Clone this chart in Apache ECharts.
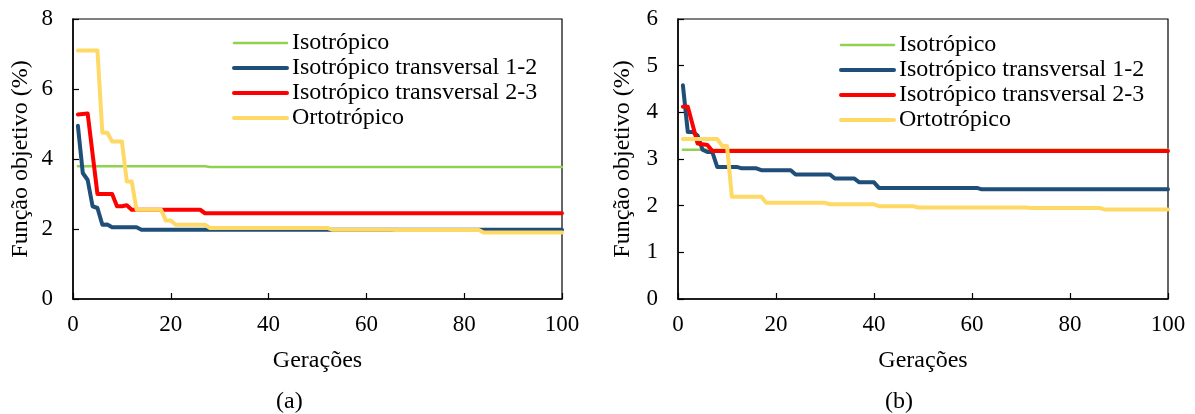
<!DOCTYPE html>
<html>
<head>
<meta charset="utf-8">
<script src="https://cdn.jsdelivr.net/npm/echarts@6/dist/echarts.min.js"></script>
<style>
  html, body { margin: 0; padding: 0; background: #fff; }
  #chart { width: 1195px; height: 414px; }
</style>
</head>
<body>
<div id="chart"></div>
<script>
// Series names (legend order)
const nomesSeries = ['Isotrópico', 'Isotrópico transversal 1-2', 'Isotrópico transversal 2-3', 'Ortotrópico'];

// Panel (a): objective function (%) per generation, [geração, valor] at the change points
const isoA = [[1, 3.79], [27, 3.79], [28, 3.77], [100, 3.77]];
const trans12A = [[1, 4.95], [2, 3.6], [3, 3.4], [4, 2.65], [5, 2.6], [6, 2.12], [7, 2.13], [8, 2.05], [13, 2.05], [14, 1.98], [100, 1.98]];
const trans23A = [[1, 5.27], [3, 5.3], [5, 3.0], [8, 3.0], [9, 2.65], [10, 2.65], [11, 2.68], [12, 2.55], [26, 2.55], [27, 2.45], [100, 2.45]];
const ortoA = [[1, 7.1], [5, 7.1], [6, 4.75], [7, 4.75], [8, 4.5], [10, 4.5], [11, 3.36], [12, 3.36], [13, 2.55], [18, 2.55], [19, 2.24], [20, 2.24], [21, 2.12], [27, 2.12], [28, 2.03], [52, 2.03], [53, 1.98], [65, 1.98], [66, 1.97], [83, 1.97], [84, 1.9], [100, 1.9]];

// Panel (b)
const isoB = [[1, 3.2], [100, 3.2]];
const trans12B = [[1, 4.58], [2, 3.58], [3, 3.58], [4, 3.5], [5, 3.2], [6, 3.15], [7, 3.15], [8, 2.83], [12, 2.83], [13, 2.8], [16, 2.8], [17, 2.76], [23, 2.76], [24, 2.67], [31, 2.67], [32, 2.58], [36, 2.58], [37, 2.5], [40, 2.5], [41, 2.38], [61, 2.38], [62, 2.35], [100, 2.35]];
const trans23B = [[1, 4.12], [2, 4.12], [4, 3.33], [6, 3.3], [7, 3.17], [100, 3.17]];
const ortoB = [[1, 3.43], [8, 3.43], [9, 3.28], [10, 3.28], [11, 2.19], [17, 2.19], [18, 2.06], [30, 2.06], [31, 2.03], [40, 2.03], [41, 1.99], [48, 1.99], [49, 1.96], [71, 1.96], [72, 1.95], [86, 1.95], [87, 1.92], [100, 1.92]];

// Axis ranges
const eixoX = { min: 0, max: 100, interval: 20 };
const eixoYA = { min: 0, max: 8, interval: 2 };
const eixoYB = { min: 0, max: 6, interval: 1 };

const FONT = '"Liberation Serif", "Times New Roman", serif';
const cores = ['#92D050', '#1F4E79', '#FF0000', '#FFD966'];
const larguras = [2.5, 4, 4, 4];

function xAxisDef(gridIndex) {
  return {
    type: 'value', gridIndex, min: eixoX.min, max: eixoX.max, interval: eixoX.interval,
    name: 'Gerações', nameLocation: 'middle', nameGap: 50,
    nameTextStyle: { fontFamily: FONT, fontSize: 24, color: '#000' },
    axisLine: { show: true, lineStyle: { color: '#000', width: 1.5 } },
    axisTick: { show: true, inside: true, length: 6, lineStyle: { color: '#000', width: 1.2 } },
    axisLabel: { fontFamily: FONT, fontSize: 23, color: '#000', margin: 14 },
    splitLine: { show: false }
  };
}
function yAxisDef(gridIndex, r, gap) {
  return {
    type: 'value', gridIndex, min: r.min, max: r.max, interval: r.interval,
    name: 'Função objetivo (%)', nameLocation: 'middle', nameGap: gap,
    nameTextStyle: { fontFamily: FONT, fontSize: 24, color: '#000' },
    axisLine: { show: true, lineStyle: { color: '#000', width: 1.5 } },
    axisTick: { show: true, inside: true, length: 6, lineStyle: { color: '#000', width: 1.2 } },
    axisLabel: { fontFamily: FONT, fontSize: 23, color: '#000', margin: 20 },
    splitLine: { show: false }
  };
}
function serie(i, dados, idx) {
  return {
    name: nomesSeries[i], type: 'line', data: dados,
    xAxisIndex: idx, yAxisIndex: idx,
    symbol: 'none', silent: true, animation: false,
    lineStyle: { color: cores[i], width: larguras[i], cap: 'round', join: 'round' },
    itemStyle: { color: cores[i] }
  };
}
// Legend rows show only the line sample (same width as the series), no marker
function legendaDef(left, top) {
  return {
    orient: 'vertical', left, top, itemWidth: 53, itemHeight: 12, itemGap: 1,
    selectedMode: false,
    data: nomesSeries.map((n, i) => ({
      name: n,
      itemStyle: { opacity: 0 },
      lineStyle: { width: larguras[i], color: cores[i], cap: 'round' }
    })),
    itemStyle: { opacity: 0 },
    textStyle: { fontFamily: FONT, fontSize: 24, color: '#000', lineHeight: 24 }
  };
}

const chart = echarts.init(document.getElementById('chart'), null, { renderer: 'canvas' });
chart.setOption({
  animation: false,
  backgroundColor: '#fff',
  title: [
    { text: '(a)', left: 271, top: 385, textStyle: { fontFamily: FONT, fontSize: 24, fontWeight: 'normal', color: '#000' } },
    { text: '(b)', left: 880, top: 385, textStyle: { fontFamily: FONT, fontSize: 24, fontWeight: 'normal', color: '#000' } }
  ],
  grid: [
    { left: 73, right: 633, top: 19, bottom: 115, show: true, borderColor: '#000', borderWidth: 1.2, backgroundColor: 'transparent' },
    { left: 678, right: 27, top: 19, bottom: 115, show: true, borderColor: '#000', borderWidth: 1.2, backgroundColor: 'transparent' }
  ],
  legend: [legendaDef(227, 26), legendaDef(834, 28)],
  xAxis: [xAxisDef(0), xAxisDef(1)],
  yAxis: [yAxisDef(0, eixoYA, 40), yAxisDef(1, eixoYB, 43)],
  series: [
    serie(0, isoA, 0), serie(1, trans12A, 0), serie(2, trans23A, 0), serie(3, ortoA, 0),
    serie(0, isoB, 1), serie(1, trans12B, 1), serie(2, trans23B, 1), serie(3, ortoB, 1)
  ]
});
</script>
</body>
</html>
